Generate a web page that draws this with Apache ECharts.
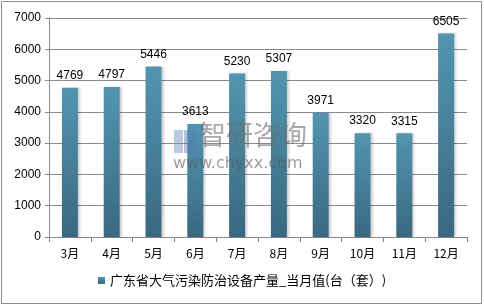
<!DOCTYPE html>
<html><head><meta charset="utf-8">
<script src="https://cdn.jsdelivr.net/npm/echarts@6/dist/echarts.min.js"></script>
<style>html,body{margin:0;padding:0;background:#fff}#c{width:484px;height:306px}</style>
</head><body><div id="c"></div>
<script>
var categories = ['3月','4月','5月','6月','7月','8月','9月','10月','11月','12月'];
var values = [4769,4797,5446,3613,5230,5307,3971,3320,3315,6505];
var seriesName = '广东省大气污染防治设备产量_当月值(台（套）)';
var yTicks = [0,1000,2000,3000,4000,5000,6000,7000];

var chart = echarts.init(document.getElementById('c'));
var font = '"Noto Sans CJK SC", "DejaVu Sans", sans-serif';
chart.setOption({
  animation: false,
  grid: {left: 49, right: 17, top: 18, bottom: 69, containLabel: false},
  graphic: [
    {type: 'rect', shape: {x: 1.5, y: 1.5, width: 480, height: 302}, style: {fill: null, stroke: '#8c8c8c', lineWidth: 1}, z: -1},
    {type: 'text', left: 199, top: 121, style: {text: '智研咨询', font: '27px ' + font, fill: 'rgba(110,110,110,0.6)'}, z: 10},
    {type: 'text', left: 173, top: 156, style: {text: 'www.chyxx.com', font: '16px "DejaVu Sans", sans-serif', fill: 'rgba(90,90,90,0.6)'}, z: 10},
    {type: 'rect', shape: {x: 174, y: 130, width: 9, height: 23}, style: {fill: 'rgba(120,150,200,0.5)'}, z: 10},
    {type: 'rect', shape: {x: 184, y: 130, width: 11, height: 23}, style: {fill: 'rgba(90,120,180,0.45)'}, z: 10}
  ],
  xAxis: {
    type: 'category', data: categories,
    axisLine: {lineStyle: {color: '#888', width: 1}},
    axisTick: {show: true, alignWithLabel: false, length: 5, lineStyle: {color: '#888'}},
    axisLabel: {color: '#000', fontSize: 12, fontFamily: font, margin: 10}
  },
  yAxis: {
    type: 'value', min: 0, max: 7000, interval: 1000,
    axisLine: {show: true, lineStyle: {color: '#888'}},
    axisTick: {show: true, length: 4, lineStyle: {color: '#888'}},
    splitLine: {lineStyle: {color: '#8a8a8a', width: 1}},
    axisLabel: {color: '#000', fontSize: 12, fontFamily: 'Liberation Sans, sans-serif', margin: 8,
      formatter: function(v){ return yTicks.indexOf(v) >= 0 ? String(v) : ''; }}
  },
  legend: {
    bottom: 14, left: 'center', itemWidth: 7, itemHeight: 7, icon: 'rect',
    textStyle: {color: '#000', fontSize: 13, fontFamily: font},
    data: [seriesName]
  },
  series: [{
    name: seriesName, type: 'bar', data: values, barWidth: 16,
    itemStyle: {
      color: new echarts.graphic.LinearGradient(0,0,0,1,[{offset:0,color:'#5295b0'},{offset:1,color:'#3a6880'}]),
      shadowColor: 'rgba(0,0,0,0.18)', shadowBlur: 2, shadowOffsetX: 2
    },
    label: {show: true, position: 'top', color: '#000', fontSize: 12, fontFamily: 'Liberation Sans, sans-serif', distance: 6}
  }]
});
</script></body></html>
